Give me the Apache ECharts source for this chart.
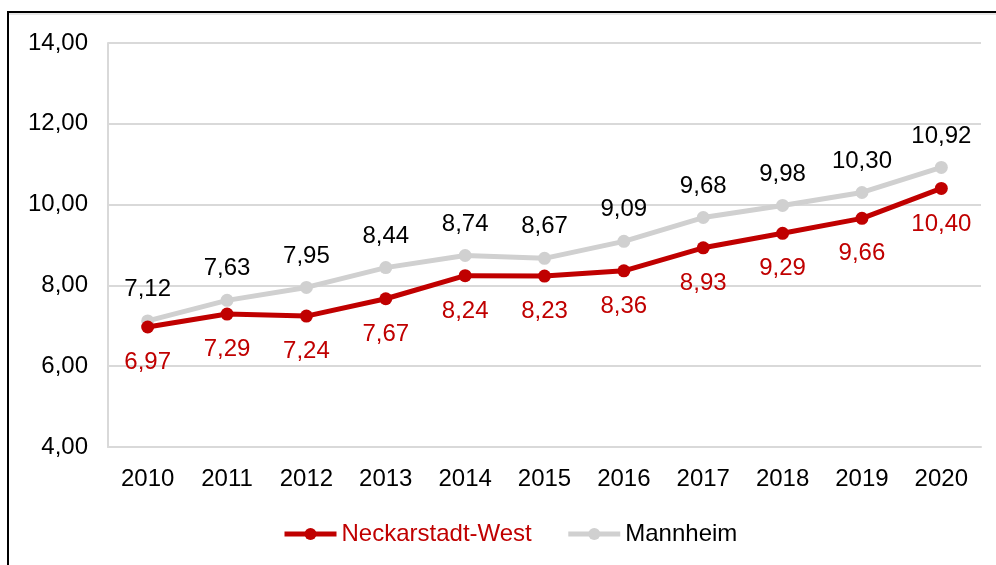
<!DOCTYPE html>
<html>
<head>
<meta charset="utf-8">
<script src="https://cdn.jsdelivr.net/npm/echarts@6/dist/echarts.min.js"></script>
<style>
  html, body { margin: 0; padding: 0; background: #fff; }
  #frame { position: absolute; left: 7px; top: 11px; width: 1000px; height: 600px;
           border-left: 2px solid #000; border-top: 2px solid #000; box-shadow: 0 2px 0 #e6e6e6 inset; }
  #chart { position: absolute; left: 0; top: 0; width: 996px; height: 565px; }
</style>
</head>
<body>
<div id="frame"></div>
<div id="chart"></div>
<script>
const years = ['2010', '2011', '2012', '2013', '2014', '2015', '2016', '2017', '2018', '2019', '2020']
const neckarstadtWest = [6.97, 7.29, 7.24, 7.67, 8.24, 8.23, 8.36, 8.93, 9.29, 9.66, 10.40]
const mannheim = [7.12, 7.63, 7.95, 8.44, 8.74, 8.67, 9.09, 9.68, 9.98, 10.30, 10.92]

const red = '#c00000'
const grey = '#d0d0d0'
const font = 'Liberation Sans, Arial, sans-serif'
const fs = 24
const fmt = v => v.toFixed(2).replace('.', ',')

const chart = echarts.init(document.getElementById('chart'), null, { renderer: 'canvas' })

chart.setOption({
    animation: false,
    textStyle: { fontFamily: font },
    grid: { left: 108, right: 15, top: 43, bottom: 118 },
    legend: {
        bottom: 14,
        left: 277,
        itemWidth: 52,
        itemHeight: 15,
        itemGap: 34,
        textStyle: { fontSize: fs, color: '#000', fontFamily: font },
        data: [
            { name: 'Neckarstadt-West', textStyle: { color: red }, lineStyle: { width: 5, color: red } },
            { name: 'Mannheim', lineStyle: { width: 5, color: grey } }
        ]
    },
    xAxis: {
        type: 'category',
        data: years,
        boundaryGap: true,
        axisLine: { show: true, lineStyle: { color: '#d9d9d9', width: 2 } },
        axisTick: { show: false },
        axisLabel: { color: '#000', fontSize: fs, margin: 20, fontFamily: font }
    },
    yAxis: {
        type: 'value',
        min: 4,
        max: 14,
        interval: 2,
        axisLine: { show: true, lineStyle: { color: '#d9d9d9', width: 2 } },
        axisTick: { show: false },
        splitLine: { lineStyle: { color: '#d9d9d9', width: 2 } },
        axisLabel: { color: '#000', fontSize: fs, margin: 20, fontFamily: font, formatter: v => fmt(v) }
    },
    series: [
        {
            name: 'Mannheim',
            type: 'line',
            data: mannheim,
            symbol: 'circle',
            symbolSize: 13,
            z: 2,
            lineStyle: { color: grey, width: 5 },
            itemStyle: { color: grey },
            label: {
                show: true, position: 'top', distance: 13,
                color: '#000', fontSize: fs, fontFamily: font,
                formatter: p => fmt(p.value)
            }
        },
        {
            name: 'Neckarstadt-West',
            type: 'line',
            data: neckarstadtWest,
            symbol: 'circle',
            symbolSize: 13,
            z: 3,
            lineStyle: { color: red, width: 5 },
            itemStyle: { color: red },
            label: {
                show: true, position: 'bottom', distance: 17,
                color: red, fontSize: fs, fontFamily: font,
                formatter: p => fmt(p.value)
            }
        }
    ]
})
</script>
</body>
</html>
